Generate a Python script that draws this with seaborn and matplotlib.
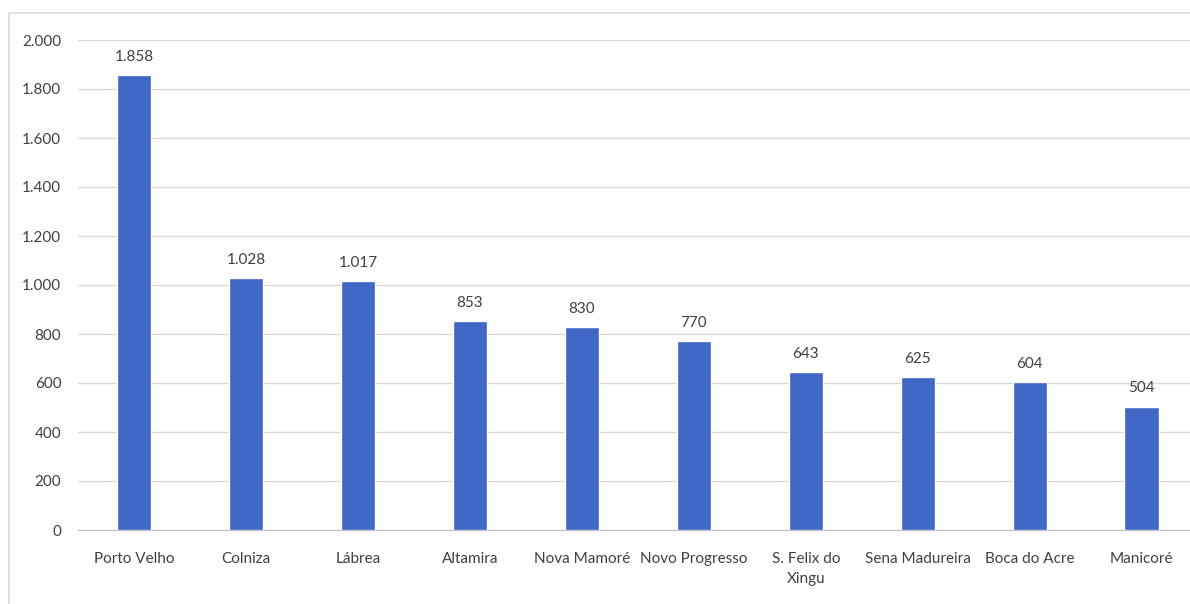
import matplotlib
matplotlib.use("Agg")
import matplotlib.pyplot as plt
import seaborn as sns
import pandas as pd
from matplotlib.patches import Rectangle

categories = ["Porto Velho", "Colniza", "Lábrea", "Altamira", "Nova Mamoré",
              "Novo Progresso", "S. Felix do\nXingu", "Sena Madureira",
              "Boca do Acre", "Manicoré"]
values = [1858, 1028, 1017, 853, 830, 770, 643, 625, 604, 504]
yticks = [0, 200, 400, 600, 800, 1000, 1200, 1400, 1600, 1800, 2000]

sns.set_style("white")
plt.rcParams['font.family'] = ['Lato', 'DejaVu Sans']

df = pd.DataFrame({"cat": categories, "val": values})

fig = plt.figure(figsize=(11.9, 6.04), dpi=100)
ax = fig.add_axes([78/1190, 1 - 530/604, 1 - 78/1190, (530 - 40)/604])

sns.barplot(data=df, x="cat", y="val", color="#3f67c6", width=0.31,
            saturation=1, ax=ax, zorder=3)

ax.set_ylim(0, 2000)
ax.set_xlim(-0.5, 9.43)
ax.set_yticks(yticks)
ax.set_yticklabels([f"{v:,}".replace(",", ".") for v in yticks])
ax.set_xlabel("")
ax.set_ylabel("")
ax.grid(axis="y", color="#d9d9d9", linewidth=1, zorder=0)
for s in ["top", "right", "left"]:
    ax.spines[s].set_visible(False)
ax.spines["bottom"].set_color("#bfbfbf")
ax.spines["bottom"].set_zorder(4)
ax.tick_params(axis="both", length=0, labelsize=11, colors="#404040")
ax.tick_params(axis="x", pad=16)
ax.tick_params(axis="y", pad=12)
for lbl in ax.get_xticklabels():
    lbl.set_linespacing(1.5)

for i, v in enumerate(values):
    ax.text(i, v + 45, f"{v:,}".replace(",", "."), ha="center", va="bottom",
            fontsize=11, color="#404040")

fig.patches.append(Rectangle((9/1190, -0.01), 1.0, 1 - 13/604 + 0.01,
                             transform=fig.transFigure, fill=False,
                             edgecolor="#d9d9d9", linewidth=1.2))

fig.savefig("out.png", dpi=100)
